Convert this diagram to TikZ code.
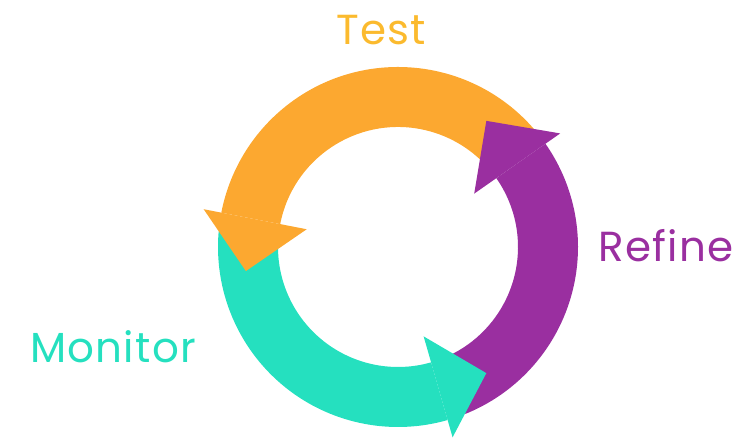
\documentclass[tikz,border=0pt]{standalone}
\usepackage{fontspec}
\setmainfont{Poppins}[LetterSpace=3]
\usepackage{tikz}
\usetikzlibrary{calc}
\definecolor{ctest}{HTML}{FCA830}
\definecolor{ctesttext}{HTML}{FBBA2E}
\definecolor{crefine}{HTML}{9A2FA0}
\definecolor{cmonitor}{HTML}{25E0BF}

\begin{document}
\begin{tikzpicture}[
        x=1pt, y=1pt,
        phase/.style = {font=\fontsize{42}{42}\selectfont, inner sep=0pt, anchor=base}
    ]
        \useasboundingbox (0,0) rectangle (746,443);

        % Centre of the cycle
        \coordinate (centre) at (398,196);

        % Arrow bodies (outer radius 180, inner radius 120)
        \foreach \col/\from/\to in {ctest/41/169, cmonitor/175/286, crefine/292/395}
            \fill [\col] ($(centre)+(\from:180)$) arc [start angle=\from, end angle=\to, radius=180]
                -- ($(centre)+(\to:120)$) arc [start angle=\to, end angle=\from, radius=120] -- cycle;

        % Arrow heads, drawn last so they cover the next tail
        \foreach \col/\base/\tip in {ctest/169/189, cmonitor/286/305, crefine/35/55}
            \fill [\col] ($(centre)+(\base:93)$) -- ($(centre)+(\base:198)$) -- ($(centre)+(\tip:154)$) -- cycle;

        % Labels
        \node (test) [phase, text=ctesttext] at (381,398) {Test};
        \node (refine) [phase, text=crefine] at (666,181) {Refine};
        \node (monitor) [phase, text=cmonitor] at (113,80) {Monitor};

    \end{tikzpicture}
\end{document}
